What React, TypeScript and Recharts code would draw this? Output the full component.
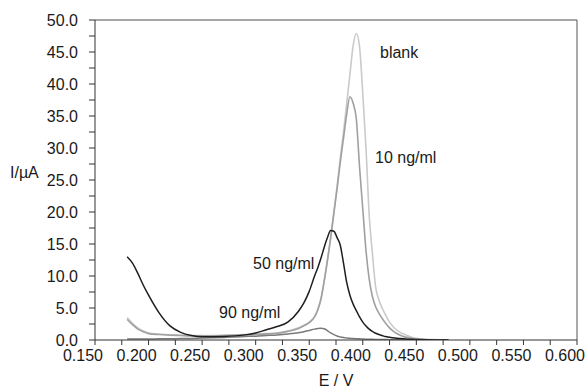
import React from 'react';
import { LineChart, Line, XAxis, YAxis, ReferenceLine } from 'recharts';

const E = [0.180,0.185,0.190,0.195,0.200,0.210,0.220,0.230,0.240,0.250,0.270,0.290,0.300,0.310,0.320,0.330,0.340,0.345,0.350,0.355,0.358,0.361,0.364,0.367,0.370,0.373,0.376,0.379,0.382,0.385,0.388,0.391,0.394,0.397,0.400,0.403,0.406,0.409,0.412,0.415,0.418,0.421,0.425,0.430,0.435,0.440,0.445,0.450,0.460,0.470,0.480];

const blank = [3.5,2.6,1.9,1.4,1.1,0.9,0.8,0.75,0.7,0.7,0.75,0.85,0.9,1.0,1.1,1.4,1.9,2.3,2.8,3.7,4.8,6.5,9.3,12.5,16.0,20.0,24.0,28.5,32.5,37.0,41.5,46.0,47.9,45.8,38.5,30.0,19.5,13.5,8.3,6.3,5.0,4.0,2.8,1.8,1.2,0.8,0.45,0.25,0.1,0.05,0];

const ng10 = [3.2,2.4,1.7,1.3,1.0,0.85,0.75,0.7,0.65,0.65,0.7,0.8,0.85,0.95,1.05,1.35,1.8,2.2,2.7,3.6,4.7,6.4,9.2,12.4,15.9,19.8,23.6,27.8,31.5,35.3,38.0,37.0,34.5,27.0,20.5,14.0,9.5,6.8,5.2,4.2,3.4,2.7,1.9,1.2,0.75,0.45,0.25,0.15,0.05,0.02,0];

const ng50 = [13.0,12.0,10.4,8.6,7.0,4.2,2.2,1.2,0.7,0.5,0.55,0.8,1.1,1.6,2.1,2.8,4.5,5.8,7.6,10.0,11.3,12.8,14.5,16.0,17.1,17.0,16.0,14.8,12.0,9.0,7.0,5.6,4.6,3.6,2.8,2.2,1.7,1.35,1.05,0.85,0.7,0.55,0.42,0.3,0.22,0.15,0.1,0.07,0.03,0.01,0];

const ng90 = [0.15,0.15,0.15,0.15,0.15,0.18,0.2,0.22,0.25,0.3,0.4,0.55,0.6,0.7,0.8,0.95,1.15,1.3,1.5,1.7,1.8,1.85,1.75,1.45,1.1,0.85,0.62,0.48,0.38,0.32,0.27,0.23,0.2,0.18,0.15,0.13,0.12,0.1,0.09,0.08,0.07,0.06,0.05,0.04,0.03,0.02,0.01,0,0,0,0];

const xTicks = [0.150,0.175,0.200,0.225,0.250,0.275,0.300,0.325,0.350,0.375,0.400,0.425,0.450,0.475,0.500,0.525,0.550,0.575,0.600];
const yTicks = [0,2.5,5,7.5,10,12.5,15,17.5,20,22.5,25,27.5,30,32.5,35,37.5,40,42.5,45,47.5,50];

const rows = E.map((e, i) => ({ E: e, blank: blank[i], ng10: ng10[i], ng50: ng50[i], ng90: ng90[i] }));

const FONT = '"Liberation Sans", Arial, sans-serif';
const isMajor = (v: number, step: number) => Math.abs(Math.round(v / step) * step - v) < 1e-6;

const XTick = (props: any) => {
  const { x, y, payload } = props;
  const v = payload.value as number;
  if (!isMajor(v, 0.05)) return null;
  return (
    <text x={x - 12} y={y} dy="0.71em" textAnchor="middle" fill="#1a1a1a" fontSize={16} fontFamily={FONT}>
      {v.toFixed(3)}
    </text>
  );
};

const txt = (left: number, top: number, s: string, extra: React.CSSProperties = {}) => (
  <div style={{ position: 'absolute', left, top, fontFamily: FONT, fontSize: 16, lineHeight: '16px', color: '#1a1a1a', whiteSpace: 'nowrap', ...extra }}>{s}</div>
);

export default function App() {
  return (
    <div style={{ position: 'absolute', left: 0, top: 0, width: 585, height: 389, background: '#fff', overflow: 'hidden' }}>
      <LineChart width={585} height={389} data={rows} margin={{ top: 20, right: 8, left: 0, bottom: 0 }}>
        <XAxis
          dataKey="E"
          type="number"
          domain={[0.15, 0.6]}
          ticks={xTicks}
          interval={0}
          height={49}
          tickSize={5}
          tickMargin={5}
          stroke="#333"
          tick={<XTick />}
          allowDataOverflow
        />
        <YAxis
          type="number"
          domain={[0, 50]}
          ticks={yTicks}
          interval={0}
          width={95}
          tickSize={6}
          tickMargin={11}
          stroke="#333"
          tick={{ fill: '#1a1a1a', fontSize: 16, fontFamily: FONT }}
          tickFormatter={(v: number) => (isMajor(v, 5) ? v.toFixed(1) : '')}
          allowDataOverflow
        />
        <ReferenceLine y={50} stroke="#888" strokeWidth={1.5} />
        <ReferenceLine x={0.6} stroke="#555" />
        <Line type="monotone" dataKey="blank" stroke="#cacaca" strokeWidth={1.6} dot={false} isAnimationActive={false} />
        <Line type="monotone" dataKey="ng10" stroke="#a0a0a0" strokeWidth={1.6} dot={false} isAnimationActive={false} />
        <Line type="monotone" dataKey="ng90" stroke="#7a7a7a" strokeWidth={1.5} dot={false} isAnimationActive={false} />
        <Line type="monotone" dataKey="ng50" stroke="#1e1e1e" strokeWidth={1.5} dot={false} isAnimationActive={false} />
      </LineChart>
      {txt(10, 165, 'I/µA')}
      {txt(336, 373, 'E / V', { transform: 'translateX(-50%)' })}
      {txt(380, 45, 'blank')}
      {txt(375, 150, '10 ng/ml')}
      {txt(253, 256, '50 ng/ml')}
      {txt(219, 305, '90 ng/ml')}
    </div>
  );
}
